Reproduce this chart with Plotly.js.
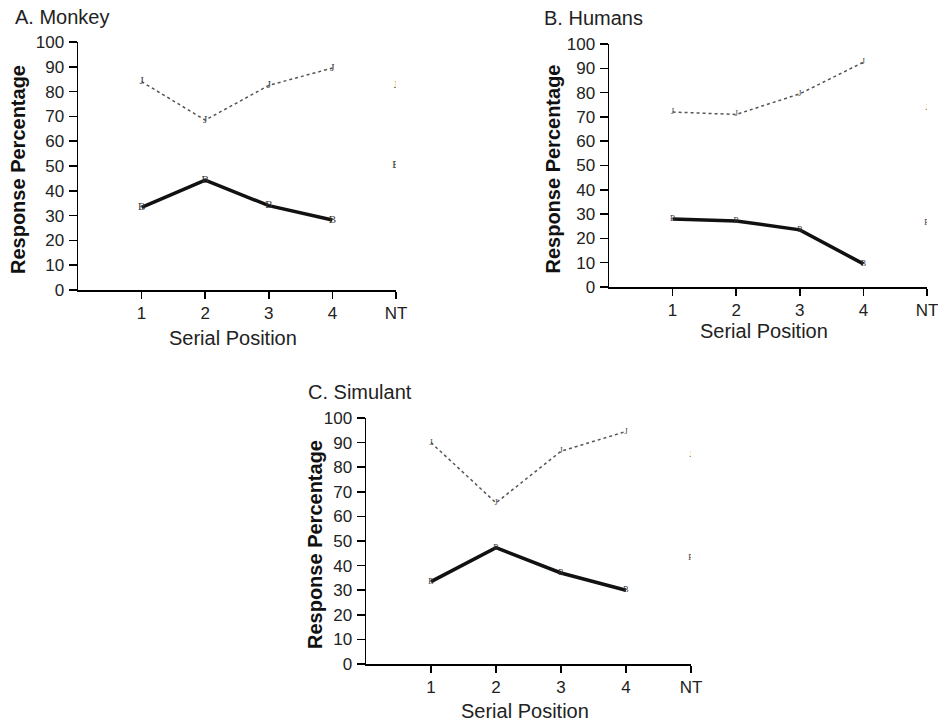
<!DOCTYPE html>
<html>
<head>
<meta charset="utf-8">
<script src="https://cdn.plot.ly/plotly-3.0.1.min.js"></script>
<style>html,body{margin:0;padding:0;background:#fff;}#chart{width:938px;height:723px;}</style>
</head>
<body>
<div id="chart"></div>
<script>
// Serial positions (5 = NT, not tested)
const positions = [1, 2, 3, 4, 5];
const positionLabels = ['1', '2', '3', '4', 'NT'];
const yTicks = [0, 10, 20, 30, 40, 50, 60, 70, 80, 90, 100];

const panelTitles = ['A. Monkey', 'B. Humans', 'C. Simulant'];

// Dotted series ("J" markers)
const monkeyDotted   = [84, 68.5, 82.5, 89.5, 82.5];
const humansDotted   = [72, 71, 79.5, 92.5, 73.5];
const simulantDotted = [90, 65.5, 86.5, 94.5, 85];

// Solid series ("B" markers)
const monkeySolid   = [33.3, 44.3, 34, 28.2, 50.5];
const humansSolid   = [28, 27.2, 23.5, 9.5, 26.2];
const simulantSolid = [33.5, 47.3, 37, 30, 43];

const W = 938, H = 723;
// panel pixel boxes: [left, right, top(y=100), bottom(y=0)]
const boxes = [
  [78, 396, 42, 290],
  [609, 927, 44, 287],
  [366, 691, 418, 664]
];
const markerSizes = [11, 8, 8];

const series = [
  [monkeyDotted, monkeySolid],
  [humansDotted, humansSolid],
  [simulantDotted, simulantSolid]
];

const traces = [];
series.forEach((s, i) => {
  const ax = i === 0 ? '' : String(i + 1);
  const xa = 'x' + ax, ya = 'y' + ax;
  const [dotted, solid] = s;
  traces.push({
    x: positions.slice(0, 4), y: dotted.slice(0, 4), xaxis: xa, yaxis: ya,
    mode: 'lines', line: {color: '#555', width: 1.5, dash: 'dot'}, hoverinfo: 'skip'
  });
  traces.push({
    x: positions.slice(0, 4), y: solid.slice(0, 4), xaxis: xa, yaxis: ya,
    mode: 'lines', line: {color: '#111', width: 3.5}, hoverinfo: 'skip'
  });
  traces.push({
    x: positions, y: dotted, xaxis: xa, yaxis: ya, mode: 'text',
    text: positions.map(() => 'J'), textposition: 'middle center',
    textfont: {family: 'Liberation Serif', size: markerSizes[i], color: '#444'}
  });
  traces.push({
    x: positions, y: solid, xaxis: xa, yaxis: ya, mode: 'text',
    text: positions.map(() => 'B'), textposition: 'middle center',
    textfont: {family: 'Liberation Serif', size: markerSizes[i], color: '#333'}
  });
});

const layout = {
  width: W, height: H,
  margin: {l: 0, r: 0, t: 0, b: 0},
  paper_bgcolor: '#fff', plot_bgcolor: 'rgba(0,0,0,0)',
  showlegend: false,
  font: {family: 'Liberation Sans, Arial, sans-serif', color: '#222'},
  annotations: []
};

const titlePos = [[13, 17], [542, 18], [306, 392]];
const yTitleX = [18, 552, 315];
const xTitleY = [338, 331, 711];

boxes.forEach((b, i) => {
  const ax = i === 0 ? '' : String(i + 1);
  const [l, r, t, bt] = b;
  layout['xaxis' + ax] = {
    domain: [l / W, r / W], range: [0, 5], anchor: 'y' + ax,
    tickmode: 'array', tickvals: positions, ticktext: positionLabels,
    showline: true, linecolor: '#000', linewidth: 1.5,
    ticks: 'outside', ticklen: 7, tickcolor: '#000', tickwidth: 1.5,
    showgrid: false, zeroline: false, ticklabelstandoff: 0,
    ticklabeloverflow: 'allow',
    tickfont: {size: 17, color: '#222'}, fixedrange: true
  };
  layout['yaxis' + ax] = {
    domain: [1 - bt / H, 1 - t / H], range: [0, 100], anchor: 'x' + ax,
    tickmode: 'array', tickvals: yTicks,
    showline: true, linecolor: '#000', linewidth: 1.5,
    ticks: 'outside', ticklen: 8, tickcolor: '#000', tickwidth: 1.5,
    showgrid: false, zeroline: false, ticklabelstandoff: 1,
    tickfont: {size: 17, color: '#222'}, fixedrange: true
  };
  layout.annotations.push({
    text: panelTitles[i], xref: 'paper', yref: 'paper',
    x: titlePos[i][0] / W, y: 1 - titlePos[i][1] / H,
    xanchor: 'left', yanchor: 'middle', showarrow: false,
    font: {size: 20, color: '#222'}
  });
  layout.annotations.push({
    text: '<b>Response Percentage</b>', xref: 'paper', yref: 'paper',
    x: yTitleX[i] / W, y: 1 - ((t + bt) / 2 + 4) / H,
    xanchor: 'center', yanchor: 'middle', textangle: -90, showarrow: false,
    font: {size: 20, color: '#111'}
  });
  layout.annotations.push({
    text: 'Serial Position', xref: 'paper', yref: 'paper',
    x: ((l + r) / 2 - 4) / W, y: 1 - xTitleY[i] / H,
    xanchor: 'center', yanchor: 'middle', showarrow: false,
    font: {size: 20, color: '#222'}
  });
});

Plotly.newPlot('chart', traces, layout, {displayModeBar: false, staticPlot: true});
</script>
</body>
</html>
